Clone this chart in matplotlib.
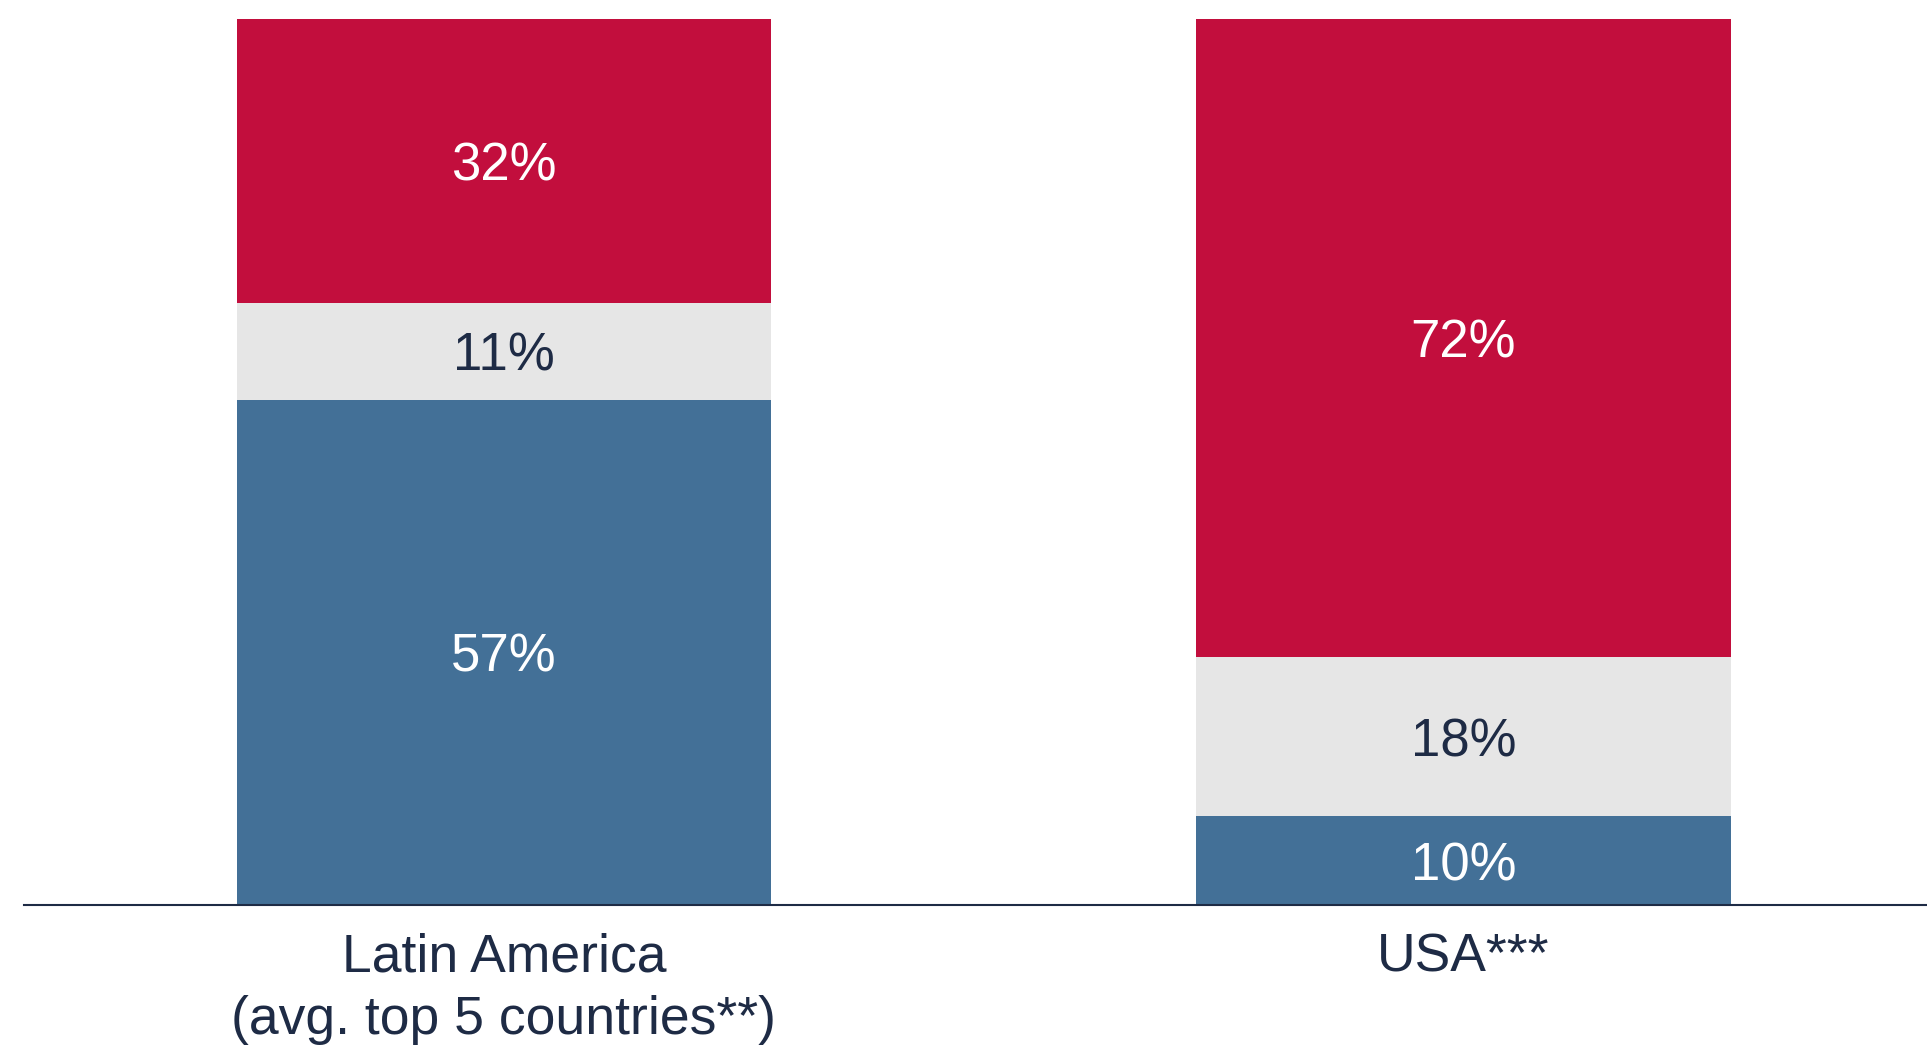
import matplotlib
matplotlib.use("Agg")
import matplotlib.pyplot as plt

plt.rcParams['font.family'] = ['Liberation Sans', 'DejaVu Sans']

categories = ["Latin America\n(avg. top 5 countries**)", "USA***"]
bottom_vals = [57, 10]
middle_vals = [11, 18]
top_vals = [32, 72]

c_blue = "#437097"
c_grey = "#E6E6E6"
c_red = "#C20E3D"
c_text = "#1E2B45"

fig = plt.figure(figsize=(19.27, 10.5), dpi=100)
ax = fig.add_axes([24/1927, 145/1050, 1 - 24/1927, (905-19)/1050])

x = [0, 1]
w = 0.5565
ax.bar(x, bottom_vals, width=w, color=c_blue)
ax.bar(x, middle_vals, width=w, bottom=bottom_vals, color=c_grey)
bot3 = [a + b for a, b in zip(bottom_vals, middle_vals)]
ax.bar(x, top_vals, width=w, bottom=bot3, color=c_red)

entries = [(xi, v, 0, "white") for xi, v in zip(x, bottom_vals)] + \
    [(xi, v, b, c_text) for xi, v, b in zip(x, middle_vals, bottom_vals)] + \
    [(xi, v, b, "white") for xi, v, b in zip(x, top_vals, bot3)]
for xi, v, base, col in entries:
    ax.text(xi, base + v / 2, f"{v}%", ha="center", va="center_baseline",
            fontsize=38, color=col)

ax.set_xlim(-0.5, 1.483)
ax.set_ylim(0, 100)
ax.set_xticks(x)
ax.set_xticklabels(categories, fontsize=38.5, color=c_text, linespacing=1.32)
ax.tick_params(axis="x", length=0, pad=20)
ax.set_yticks([])
for s in ["top", "right", "left"]:
    ax.spines[s].set_visible(False)
ax.spines["bottom"].set_color(c_text)
ax.spines["bottom"].set_linewidth(1.5)

fig.savefig("out.png", dpi=100)
